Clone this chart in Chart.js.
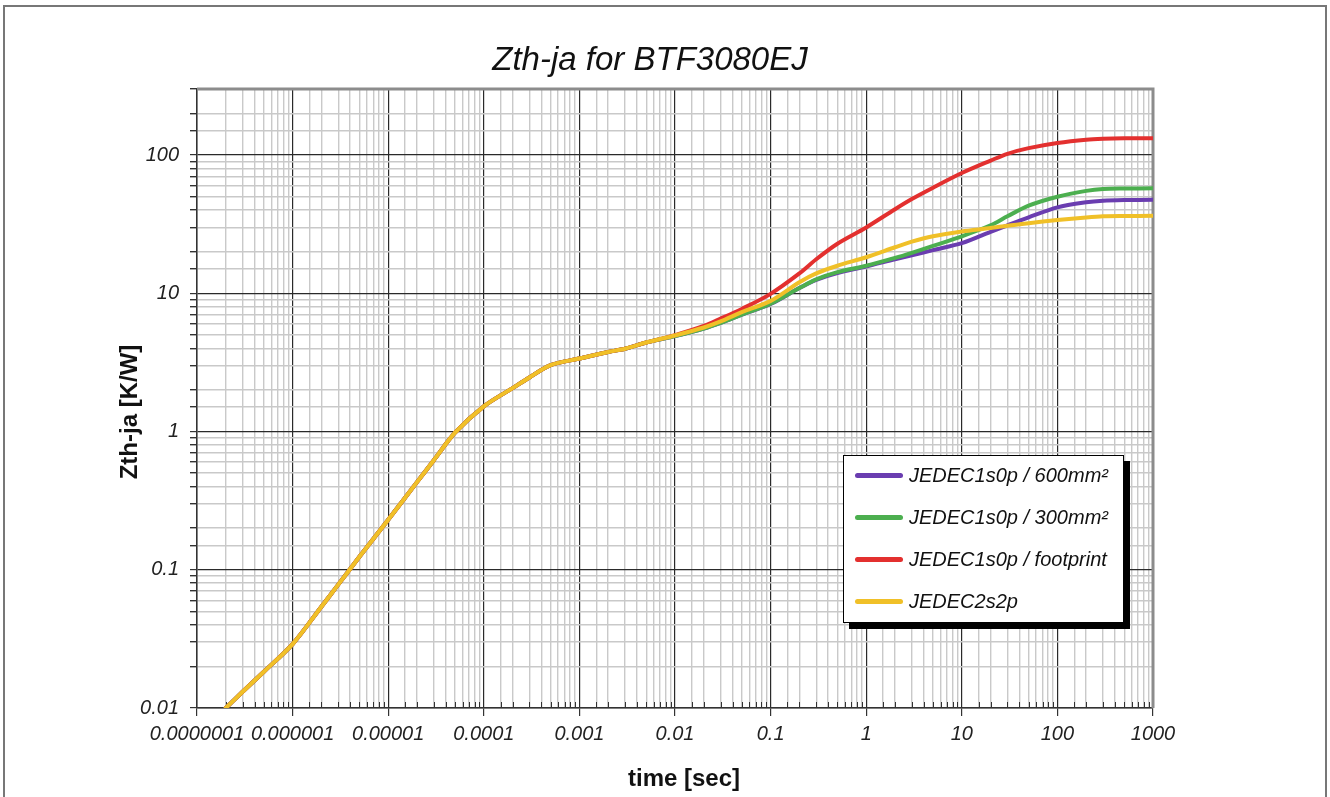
<!DOCTYPE html>
<html lang="en">
<head>
<meta charset="UTF-8">
<title>Zth-ja for BTF3080EJ</title>
<style>
  body { margin: 0; background: #fff; font-family: "Liberation Sans", Arial, sans-serif; }
  #wrap { position: relative; width: 1330px; height: 797px; overflow: hidden; }
  #frame {
    position: absolute; left: 3px; top: 5px; width: 1320px; height: 820px;
    border: 2px solid #777; border-bottom: none;
  }
  #title {
    position: absolute; left: 0; top: 40px; width: 1300px;
    text-align: center; font-style: italic; font-size: 33px; color: #111;
  }
  .axisTitle {
    position: absolute; font-weight: bold; color: #111; white-space: nowrap;
    transform: translate(-50%, -50%);
  }
  #yTitle { left: 129px; top: 412px; font-size: 24px; transform: translate(-50%, -50%) rotate(-90deg); }
  #xTitle { left: 684px; top: 778px; font-size: 24px; }
  #legend {
    position: absolute; left: 843px; top: 455px; width: 279px; height: 166px;
    background: #fff; border: 1px solid #000; box-shadow: 6px 6px 0 #000;
  }
  .item {
    position: absolute; left: 11px; height: 24px; line-height: 24px;
    display: flex; align-items: center;
    font-style: italic; font-size: 20px; color: #111; white-space: nowrap;
  }
  .swatch { width: 48px; height: 5px; border-radius: 3px; margin-right: 6px; }
  canvas { position: absolute; left: 0; top: 0; }
</style>
</head>
<body>
<div id="wrap">
  <canvas id="zthChart" width="1330" height="797"></canvas>
  <div id="frame"></div>
  <div id="title">Zth-ja for BTF3080EJ</div>
  <div id="yTitle" class="axisTitle">Zth-ja [K/W]</div>
  <div id="xTitle" class="axisTitle">time [sec]</div>
  <div id="legend"></div>
</div>

<script src="https://cdn.jsdelivr.net/npm/chart.js"></script>
<script>
  // time points [s]
  const timeSec = [2e-7, 3e-7, 5e-7, 1e-6, 2e-6, 3e-6, 5e-6, 1e-5, 2e-5, 3e-5, 5e-5,
                   1e-4, 2e-4, 3e-4, 5e-4, 1e-3, 2e-3, 3e-3, 5e-3,
                   0.01, 0.02, 0.03, 0.05, 0.1, 0.2, 0.3, 0.5, 1, 2, 3, 5,
                   10, 20, 30, 50, 100, 200, 300, 500, 1000];

  // Zth-ja [K/W]
  const zth600 = [0.0100, 0.0131, 0.0183, 0.029, 0.054, 0.078, 0.124, 0.23, 0.43, 0.62, 0.98,
                  1.52, 2.06, 2.46, 3.02, 3.37, 3.76, 3.97, 4.4,
                  4.9, 5.55, 6.1, 7.0, 8.35, 10.9, 12.5, 14.0, 15.6, 17.6, 18.8, 20.5,
                  23.0, 27.8, 31.0, 35.4, 41.8, 45.5, 46.7, 47.2, 47.4];
  const zth300 = [0.0100, 0.0131, 0.0183, 0.029, 0.054, 0.078, 0.124, 0.23, 0.43, 0.62, 0.98,
                  1.52, 2.06, 2.46, 3.02, 3.37, 3.76, 3.97, 4.4,
                  4.9, 5.55, 6.1, 7.0, 8.4, 10.9, 12.6, 14.2, 15.8, 18.0, 19.6, 22.0,
                  25.8, 31.0, 36.0, 43.0, 49.9, 55.0, 56.8, 57.2, 57.4];
  const zthFootprint = [0.0100, 0.0131, 0.0183, 0.029, 0.054, 0.078, 0.124, 0.23, 0.43, 0.62, 0.98,
                  1.52, 2.06, 2.46, 3.02, 3.37, 3.76, 3.97, 4.4,
                  4.98, 5.8, 6.55, 7.7, 9.9, 13.9, 17.6, 22.8, 29.9, 40.5, 48.0, 58.0,
                  74.0, 91.0, 102.0, 112.0, 122.0, 129.0, 131.0, 132.0, 132.0];
  const zth2s2p = [0.0100, 0.0131, 0.0183, 0.029, 0.054, 0.078, 0.124, 0.23, 0.43, 0.62, 0.98,
                  1.52, 2.06, 2.46, 3.02, 3.37, 3.76, 3.97, 4.4,
                  4.95, 5.65, 6.25, 7.3, 8.8, 12.0, 13.9, 15.8, 18.2, 21.5, 23.6, 25.8,
                  28.0, 29.6, 30.8, 32.1, 33.8, 35.3, 36.0, 36.2, 36.3];

  const seriesNames  = ['JEDEC1s0p / 600mm²', 'JEDEC1s0p / 300mm²', 'JEDEC1s0p / footprint', 'JEDEC2s2p'];
  const seriesColors = ['#6a3db0', '#4caf4f', '#e3302f', '#f0c028'];
  const seriesOrder  = [3, 2, 1, 0];   // yellow drawn on top

  const xTickValues = [1e-7, 1e-6, 1e-5, 1e-4, 1e-3, 0.01, 0.1, 1, 10, 100, 1000];
  const xTickLabels = ['0.0000001', '0.000001', '0.00001', '0.0001', '0.001', '0.01', '0.1', '1', '10', '100', '1000'];
  const yTickValues = [0.01, 0.1, 1, 10, 100];
  const yTickLabels = ['0.01', '0.1', '1', '10', '100'];

  const FONT = '"Liberation Sans", Arial, sans-serif';

  function isMajor(v) {
    const l = Math.log10(v);
    return Math.abs(l - Math.round(l)) < 1e-6;
  }
  function labelFor(v, values, labels) {
    const i = values.findIndex(t => Math.abs(Math.log10(t / v)) < 1e-6);
    return i < 0 ? '' : labels[i];
  }

  const seriesData = [zth600, zth300, zthFootprint, zth2s2p];
  const datasets = seriesData.map((arr, k) => ({
    label: seriesNames[k],
    data: timeSec.map((t, i) => ({ x: t, y: arr[i] })),
    borderColor: seriesColors[k],
    backgroundColor: seriesColors[k],
    borderWidth: 4,
    pointRadius: 0,
    tension: 0.3,
    borderCapStyle: 'round',
    borderJoinStyle: 'round',
    order: seriesOrder[k]
  }));

  // gray frame round the plot + small inner minor ticks on the time axis
  const plotFrame = {
    id: 'plotFrame',
    beforeDatasetsDraw(chart) {
      const { ctx, chartArea: a, scales: { x } } = chart;
      ctx.save();
      ctx.strokeStyle = '#333';
      ctx.lineWidth = 1;
      x.ticks.forEach(t => {
        if (isMajor(t.value)) return;
        const px = Math.round(x.getPixelForValue(t.value)) + 0.5;
        ctx.beginPath();
        ctx.moveTo(px, a.bottom);
        ctx.lineTo(px, a.bottom - 6);
        ctx.stroke();
      });
      ctx.strokeStyle = '#8c8c8c';
      ctx.lineWidth = 3;
      ctx.beginPath();
      ctx.moveTo(a.left, a.top);
      ctx.lineTo(a.right, a.top);
      ctx.lineTo(a.right, a.bottom);
      ctx.stroke();
      ctx.restore();
    }
  };

  const gridOpts = (len) => ({
    color: c => isMajor(c.tick.value) ? '#2a2a2a' : '#c9c9c9',
    lineWidth: c => isMajor(c.tick.value) ? 1.2 : 1.4,
    tickColor: '#333',
    tickLength: len
  });

  new Chart(document.getElementById('zthChart'), {
    type: 'line',
    data: { datasets },
    options: {
      responsive: false,
      animation: false,
      layout: { padding: { top: 89, right: 177, left: 0, bottom: 0 } },
      plugins: { legend: { display: false }, title: { display: false }, tooltip: { enabled: false } },
      scales: {
        x: {
          type: 'logarithmic',
          min: 1e-7, max: 1000,
          afterFit: s => { s.height = 89; },
          border: { color: '#333', width: 1.5 },
          grid: Object.assign(gridOpts(8), {
            tickColor: c => isMajor(c.tick.value) ? '#333' : 'rgba(0,0,0,0)'
          }),
          ticks: {
            autoSkip: false, maxRotation: 0, padding: 6, color: '#222',
            font: { family: FONT, size: 20, style: 'italic' },
            callback: v => labelFor(v, xTickValues, xTickLabels)
          },
          title: { display: false }
        },
        y: {
          type: 'logarithmic',
          min: 0.01, max: 300,
          afterFit: s => { s.width = 197; },
          border: { color: '#333', width: 1.5 },
          grid: gridOpts(7),
          ticks: {
            autoSkip: false, padding: 11, color: '#222',
            font: { family: FONT, size: 20, style: 'italic' },
            callback: v => labelFor(v, yTickValues, yTickLabels)
          },
          title: { display: false }
        }
      }
    },
    plugins: [plotFrame]
  });

  // legend box drawn from the same series lists
  const legendBox = document.getElementById('legend');
  seriesNames.forEach((name, i) => {
    const item = document.createElement('div');
    item.className = 'item';
    item.style.top = (7 + i * 42) + 'px';
    const sw = document.createElement('span');
    sw.className = 'swatch';
    sw.style.background = seriesColors[i];
    const txt = document.createElement('span');
    txt.textContent = name;
    item.appendChild(sw);
    item.appendChild(txt);
    legendBox.appendChild(item);
  });
</script>
</body>
</html>
